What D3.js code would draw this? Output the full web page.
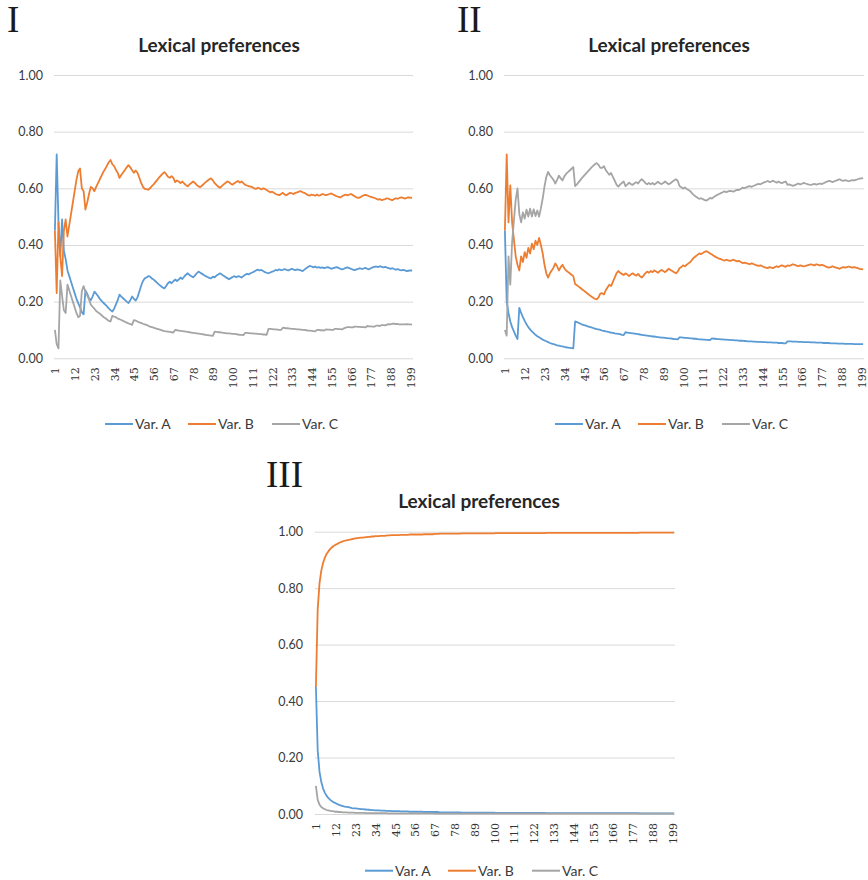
<!DOCTYPE html>
<html><head><meta charset="utf-8">
<script src="https://cdn.jsdelivr.net/npm/d3@7"></script>
<style>body{margin:0;background:#fff}</style>
</head><body>
<svg id="chart" width="868" height="880"></svg>
<script>
// ---------- DATA ----------
const categories = d3.range(1, 201);
const tickLabels = [1,12,23,34,45,56,67,78,89,100,111,122,133,144,155,166,177,188,199];
const yTicks = [0, 0.2, 0.4, 0.6, 0.8, 1.0];
const seriesNames = ["Var. A", "Var. B", "Var. C"];
const chartTitle = "Lexical preferences";
const panelNumerals = ["I", "II", "III"];

// Panel I
const p1A = [.45,.72,.48,.36,.49,.38,.35,.31,.29,.27,
.25,.23,.21,.195,.18,.163,.155,.24,.228,.212,
.205,.218,.235,.228,.22,.21,.203,.196,.19,.183,
.176,.17,.165,.175,.19,.205,.225,.218,.212,.206,
.2,.195,.205,.218,.21,.204,.215,.235,.255,.272,
.282,.285,.29,.288,.282,.278,.272,.266,.26,.255,
.25,.247,.255,.265,.27,.265,.272,.278,.273,.278,
.285,.28,.288,.295,.3,.294,.29,.286,.292,.3,
.306,.302,.298,.294,.29,.287,.284,.282,.288,.286,
.292,.296,.3,.296,.291,.287,.283,.279,.283,.287,
.29,.286,.29,.288,.285,.29,.295,.298,.296,.3,
.303,.306,.31,.313,.31,.312,.308,.304,.302,.3,
.303,.306,.308,.312,.31,.314,.311,.312,.315,.312,
.31,.313,.316,.313,.311,.314,.312,.31,.308,.313,
.318,.322,.326,.324,.321,.324,.32,.322,.319,.321,
.318,.32,.322,.319,.316,.318,.32,.322,.319,.316,
.314,.316,.319,.321,.318,.316,.313,.311,.314,.316,
.318,.315,.317,.319,.316,.314,.318,.321,.323,.324,
.322,.325,.323,.321,.323,.32,.318,.316,.318,.315,
.313,.315,.312,.31,.312,.31,.308,.309,.31,.31];
const p1B = [.45,.23,.48,.36,.29,.45,.49,.43,.47,.51,
.55,.59,.63,.66,.67,.6,.59,.525,.55,.58,
.605,.6,.59,.605,.618,.632,.645,.658,.668,.68,
.692,.7,.685,.678,.665,.655,.637,.647,.656,.665,
.674,.682,.674,.664,.655,.663,.655,.638,.62,.606,
.598,.597,.595,.6,.608,.614,.622,.63,.638,.645,
.652,.657,.65,.641,.637,.643,.637,.622,.628,.624,
.618,.624,.617,.611,.607,.614,.619,.624,.619,.612,
.607,.604,.61,.616,.622,.627,.632,.635,.628,.618,
.612,.606,.602,.608,.614,.619,.624,.622,.616,.613,
.618,.622,.626,.62,.624,.618,.612,.61,.608,.606,
.604,.6,.598,.602,.6,.596,.6,.598,.594,.59,
.586,.588,.584,.58,.578,.576,.58,.584,.578,.576,
.58,.584,.582,.58,.584,.586,.588,.59,.586,.584,
.58,.576,.574,.578,.576,.574,.578,.574,.576,.58,
.578,.576,.578,.58,.582,.578,.575,.572,.57,.568,
.572,.575,.578,.575,.578,.58,.576,.572,.568,.566,
.568,.572,.575,.577,.575,.572,.57,.568,.566,.563,
.56,.562,.558,.56,.562,.565,.563,.56,.558,.562,
.565,.563,.566,.568,.566,.564,.566,.568,.567,.566];
const p1C = [.1,.05,.035,.275,.22,.17,.16,.26,.24,.22,
.2,.18,.16,.145,.15,.237,.255,.235,.222,.208,
.19,.182,.175,.167,.162,.158,.152,.146,.142,.137,
.132,.13,.15,.147,.145,.14,.138,.135,.132,.129,
.126,.123,.121,.118,.135,.133,.13,.127,.125,.122,
.12,.118,.115,.112,.11,.108,.106,.104,.102,.1,
.098,.096,.095,.094,.093,.092,.091,.1,.099,.098,
.097,.096,.095,.094,.093,.092,.091,.09,.089,.088,
.087,.086,.085,.084,.083,.082,.081,.08,.079,.094,
.093,.092,.092,.091,.09,.089,.088,.088,.087,.086,
.086,.085,.084,.083,.083,.082,.09,.09,.089,.088,
.088,.087,.087,.086,.085,.085,.084,.084,.083,.104,
.104,.103,.102,.102,.101,.1,.1,.108,.107,.106,
.106,.105,.104,.104,.103,.102,.102,.101,.1,.1,
.099,.098,.098,.097,.096,.095,.1,.1,.099,.099,
.098,.102,.101,.101,.1,.1,.104,.104,.103,.103,
.102,.106,.108,.11,.11,.109,.109,.112,.112,.111,
.111,.11,.11,.109,.114,.113,.113,.112,.112,.115,
.115,.114,.117,.117,.116,.119,.121,.12,.122,.122,
.121,.121,.12,.12,.12,.12,.121,.12,.12,.119];

// Panel II
const p2A = [.45,.2,.16,.13,.11,.095,.08,.068,.178,.16,
.145,.132,.12,.11,.102,.095,.089,.083,.078,.074,
.07,.066,.063,.06,.057,.054,.052,.05,.048,.046,
.045,.043,.042,.04,.039,.038,.037,.036,.035,.13,
.128,.125,.122,.119,.117,.115,.113,.111,.109,.107,
.105,.103,.102,.1,.098,.097,.095,.094,.092,.091,
.09,.088,.087,.086,.085,.083,.082,.092,.091,.09,
.089,.088,.087,.086,.085,.084,.083,.082,.081,.08,
.079,.078,.077,.077,.076,.075,.074,.073,.073,.072,
.071,.07,.07,.069,.068,.068,.067,.074,.074,.073,
.072,.072,.071,.07,.07,.069,.069,.068,.067,.067,
.066,.066,.065,.065,.064,.07,.069,.069,.068,.068,
.067,.067,.066,.066,.065,.065,.064,.064,.063,.063,
.062,.062,.062,.061,.061,.06,.06,.06,.059,.059,
.058,.058,.058,.057,.057,.057,.056,.056,.056,.055,
.055,.055,.054,.054,.054,.053,.053,.06,.06,.06,
.059,.059,.059,.058,.058,.058,.057,.057,.057,.057,
.056,.056,.056,.055,.055,.055,.055,.054,.054,.054,
.054,.053,.053,.053,.053,.052,.052,.052,.052,.051,
.051,.051,.051,.051,.05,.05,.05,.05,.05,.05];
const p2B = [.45,.72,.48,.61,.48,.42,.36,.33,.31,.36,
.34,.375,.355,.39,.37,.405,.385,.415,.4,.425,
.4,.37,.33,.3,.285,.3,.31,.32,.335,.325,
.31,.322,.33,.318,.31,.305,.3,.295,.29,.262,
.258,.253,.248,.243,.238,.233,.228,.223,.218,.214,
.21,.208,.215,.228,.23,.225,.24,.25,.26,.255,
.27,.285,.3,.308,.302,.298,.294,.3,.296,.29,
.296,.3,.295,.292,.298,.29,.285,.292,.3,.306,
.302,.308,.304,.31,.306,.302,.308,.312,.308,.304,
.31,.316,.312,.308,.304,.3,.306,.318,.322,.328,
.325,.33,.335,.34,.348,.355,.36,.365,.37,.368,
.372,.376,.378,.374,.37,.366,.362,.358,.355,.352,
.35,.347,.345,.348,.346,.344,.346,.348,.345,.342,
.344,.34,.336,.338,.336,.334,.332,.335,.333,.33,
.328,.326,.328,.325,.322,.32,.318,.322,.32,.318,
.322,.325,.322,.326,.328,.325,.323,.328,.326,.329,
.332,.33,.327,.325,.328,.326,.324,.326,.328,.33,
.332,.33,.328,.332,.33,.328,.33,.328,.325,.322,
.32,.322,.325,.322,.32,.318,.316,.32,.322,.32,
.322,.324,.322,.32,.322,.32,.318,.316,.315,.314];
const p2C = [.1,.08,.36,.26,.41,.485,.56,.6,.51,.48,
.515,.493,.525,.5,.528,.5,.526,.502,.522,.5,
.53,.564,.607,.64,.658,.646,.638,.63,.617,.63,
.645,.635,.628,.642,.651,.657,.663,.669,.675,.608,
.614,.622,.63,.638,.645,.652,.659,.666,.673,.679,
.685,.689,.683,.672,.672,.678,.665,.656,.648,.654,
.64,.627,.613,.606,.613,.619,.624,.608,.613,.62,
.615,.612,.618,.622,.617,.626,.632,.626,.619,.614,
.619,.614,.619,.613,.618,.623,.618,.615,.619,.624,
.619,.614,.618,.623,.628,.632,.627,.608,.604,.599,
.603,.598,.594,.59,.582,.576,.571,.567,.563,.565,
.562,.558,.557,.561,.566,.564,.569,.573,.577,.58,
.583,.586,.589,.586,.589,.591,.59,.588,.592,.595,
.594,.598,.602,.601,.603,.606,.608,.605,.608,.611,
.614,.616,.614,.618,.621,.623,.626,.622,.624,.627,
.623,.62,.624,.62,.618,.622,.624,.612,.614,.611,
.609,.611,.614,.617,.614,.616,.619,.617,.615,.613,
.612,.614,.616,.613,.615,.617,.615,.618,.621,.624,
.626,.625,.622,.625,.627,.63,.632,.628,.626,.629,
.627,.625,.627,.629,.628,.63,.632,.634,.635,.636];

// Panel III
const p3A = [.45,.225,.15,.113,.09,.075,.064,.056,.05,.045,
.041,.038,.035,.032,.03,.028,.026,.025,.024,.023,
.021,.02,.02,.019,.018,.017,.017,.016,.016,.015,
.015,.014,.014,.013,.013,.013,.012,.012,.012,.011,
.011,.011,.01,.01,.01,.01,.01,.009,.009,.009,
.009,.009,.008,.008,.008,.008,.008,.008,.008,.008,
.007,.007,.007,.007,.007,.007,.007,.007,.007,.006,
.006,.006,.006,.006,.006,.006,.006,.006,.006,.006,
.006,.005,.005,.005,.005,.005,.005,.005,.005,.005,
.005,.005,.005,.005,.005,.005,.005,.005,.005,.005,
.004,.004,.004,.004,.004,.004,.004,.004,.004,.004,
.004,.004,.004,.004,.004,.004,.004,.004,.004,.004,
.004,.004,.004,.004,.004,.004,.004,.004,.003,.003,
.003,.003,.003,.003,.003,.003,.003,.003,.003,.003,
.003,.003,.003,.003,.003,.003,.003,.003,.003,.003,
.003,.003,.003,.003,.003,.003,.003,.003,.003,.003,
.003,.003,.003,.003,.003,.003,.003,.003,.003,.003,
.003,.003,.003,.003,.003,.003,.003,.003,.003,.003,
.002,.002,.002,.002,.002,.002,.002,.002,.002,.002,
.002,.002,.002,.002,.002,.002,.002,.002,.002,.002];
const p3B = [.45,.725,.817,.862,.89,.908,.922,.931,.939,.945,
.95,.954,.957,.961,.963,.966,.968,.969,.971,.972,
.974,.975,.976,.977,.978,.979,.979,.98,.981,.982,
.982,.983,.983,.984,.984,.984,.985,.985,.985,.986,
.987,.987,.988,.988,.988,.988,.988,.989,.989,.989,
.989,.989,.99,.99,.99,.99,.99,.99,.99,.99,
.991,.991,.991,.991,.991,.991,.992,.992,.992,.993,
.993,.993,.993,.993,.993,.993,.993,.993,.993,.993,
.993,.994,.994,.994,.994,.994,.994,.994,.994,.994,
.994,.994,.994,.994,.994,.994,.994,.994,.994,.994,
.995,.995,.995,.995,.995,.995,.995,.995,.995,.995,
.995,.995,.995,.995,.995,.995,.995,.995,.995,.995,
.995,.995,.995,.995,.995,.995,.995,.995,.996,.996,
.996,.996,.996,.996,.996,.996,.996,.996,.996,.996,
.996,.996,.996,.996,.996,.996,.996,.996,.996,.996,
.996,.996,.996,.996,.996,.996,.996,.996,.996,.996,
.996,.996,.996,.996,.996,.996,.996,.996,.996,.996,
.996,.996,.996,.996,.996,.996,.996,.996,.996,.996,
.997,.997,.997,.997,.997,.997,.997,.997,.997,.997,
.997,.997,.997,.997,.997,.997,.997,.997,.997,.997];
const p3C = [.1,.05,.033,.025,.02,.017,.014,.013,.011,.01,
.009,.008,.008,.007,.007,.006,.006,.006,.005,.005,
.005,.005,.004,.004,.004,.004,.004,.004,.003,.003,
.003,.003,.003,.003,.003,.003,.003,.003,.003,.003,
.002,.002,.002,.002,.002,.002,.002,.002,.002,.002,
.002,.002,.002,.002,.002,.002,.002,.002,.002,.002,
.002,.002,.002,.002,.002,.002,.001,.001,.001,.001,
.001,.001,.001,.001,.001,.001,.001,.001,.001,.001,
.001,.001,.001,.001,.001,.001,.001,.001,.001,.001,
.001,.001,.001,.001,.001,.001,.001,.001,.001,.001,
.001,.001,.001,.001,.001,.001,.001,.001,.001,.001,
.001,.001,.001,.001,.001,.001,.001,.001,.001,.001,
.001,.001,.001,.001,.001,.001,.001,.001,.001,.001,
.001,.001,.001,.001,.001,.001,.001,.001,.001,.001,
.001,.001,.001,.001,.001,.001,.001,.001,.001,.001,
.001,.001,.001,.001,.001,.001,.001,.001,.001,.001,
.001,.001,.001,.001,.001,.001,.001,.001,.001,.001,
.001,.001,.001,.001,.001,.001,.001,.001,.001,.001,
.001,.001,.001,.001,.001,.001,.001,.001,.001,.001,
.001,.001,.001,.001,.001,.001,.001,.001,.001,.001];

// ---------- LAYOUT ----------
const colors = ["#5B9BD5", "#ED7D31", "#A5A5A5"];
const panels = [
  {num: panelNumerals[0], numX: 7, numY: 32, x0: 54, x1: 413, yTop: 75, yBot: 358.3, ypad: 11,
   titleX: 219, titleY: 51.5, legendY: 424, legendX: [105, 188, 272], data: [p1A, p1B, p1C]},
  {num: panelNumerals[1], numX: 457, numY: 32, x0: 504, x1: 864, yTop: 75, yBot: 358.3, ypad: 11,
   titleX: 669, titleY: 52, legendY: 424, legendX: [555, 638, 722], data: [p2A, p2B, p2C]},
  {num: panelNumerals[2], numX: 266, numY: 487, x0: 315, x1: 675, yTop: 531.7, yBot: 814, ypad: 12,
   titleX: 479, titleY: 508.3, legendY: 870.7, legendX: [365, 448, 532], data: [p3A, p3B, p3C]}
];

const svg = d3.select("#chart");
svg.append("rect").attr("width", 868).attr("height", 880).attr("fill", "#fff");

panels.forEach(p => {
  const g = svg.append("g");
  const x = d3.scalePoint().domain(categories).range([p.x0, p.x1]).padding(0.5);
  const y = d3.scaleLinear().domain([0, 1]).range([p.yBot, p.yTop]);

  // panel numeral
  g.append("text").attr("x", p.numX).attr("y", p.numY)
    .attr("font-family", "'Liberation Serif', 'Times New Roman', serif")
    .attr("font-size", 37).attr("fill", "#1a1a1a").text(p.num);

  // title
  g.append("text").attr("x", p.titleX).attr("y", p.titleY).attr("text-anchor", "middle")
    .attr("font-family", "Lato, sans-serif").attr("font-weight", "bold")
    .attr("font-size", 19).attr("fill", "#262626").text(chartTitle);

  // y axis with gridlines
  const ya = g.append("g").attr("transform", `translate(${p.x0},0)`)
    .call(d3.axisLeft(y).tickValues(yTicks).tickFormat(d3.format(".2f"))
      .tickSize(-(p.x1 - p.x0)).tickPadding(p.ypad));
  ya.select(".domain").remove();
  ya.selectAll("line").attr("stroke", "#D9D9D9").attr("stroke-width", 1);
  ya.selectAll("text").attr("font-family", "Lato, sans-serif").attr("font-size", 12.5)
    .attr("fill", "#3a3a3a");

  // x axis
  const xa = g.append("g").attr("transform", `translate(0,${p.yBot})`)
    .call(d3.axisBottom(x).tickValues(tickLabels).tickSize(0));
  xa.select(".domain").remove();
  xa.selectAll("text")
    .attr("transform", "rotate(-90)")
    .attr("text-anchor", "end")
    .attr("x", -9).attr("y", 0).attr("dy", "0.36em")
    .attr("font-family", "'DejaVu Serif', serif").attr("font-size", 11)
    .attr("fill", "#333");

  // lines
  const line = d3.line().x((d, i) => x(categories[i])).y(d => y(d));
  p.data.forEach((arr, k) => {
    g.append("path").datum(arr).attr("d", line)
      .attr("fill", "none").attr("stroke", colors[k]).attr("stroke-width", 1.8)
      .attr("stroke-linejoin", "round");
  });

  // legend
  seriesNames.forEach((name, k) => {
    const lx = p.legendX[k];
    g.append("line").attr("x1", lx).attr("x2", lx + 28)
      .attr("y1", p.legendY).attr("y2", p.legendY)
      .attr("stroke", colors[k]).attr("stroke-width", 2);
    g.append("text").attr("x", lx + 30).attr("y", p.legendY).attr("dy", "0.36em")
      .attr("font-family", "Lato, sans-serif").attr("font-size", 14)
      .attr("fill", "#3a3a3a").text(name);
  });
});
</script>
</body></html>
